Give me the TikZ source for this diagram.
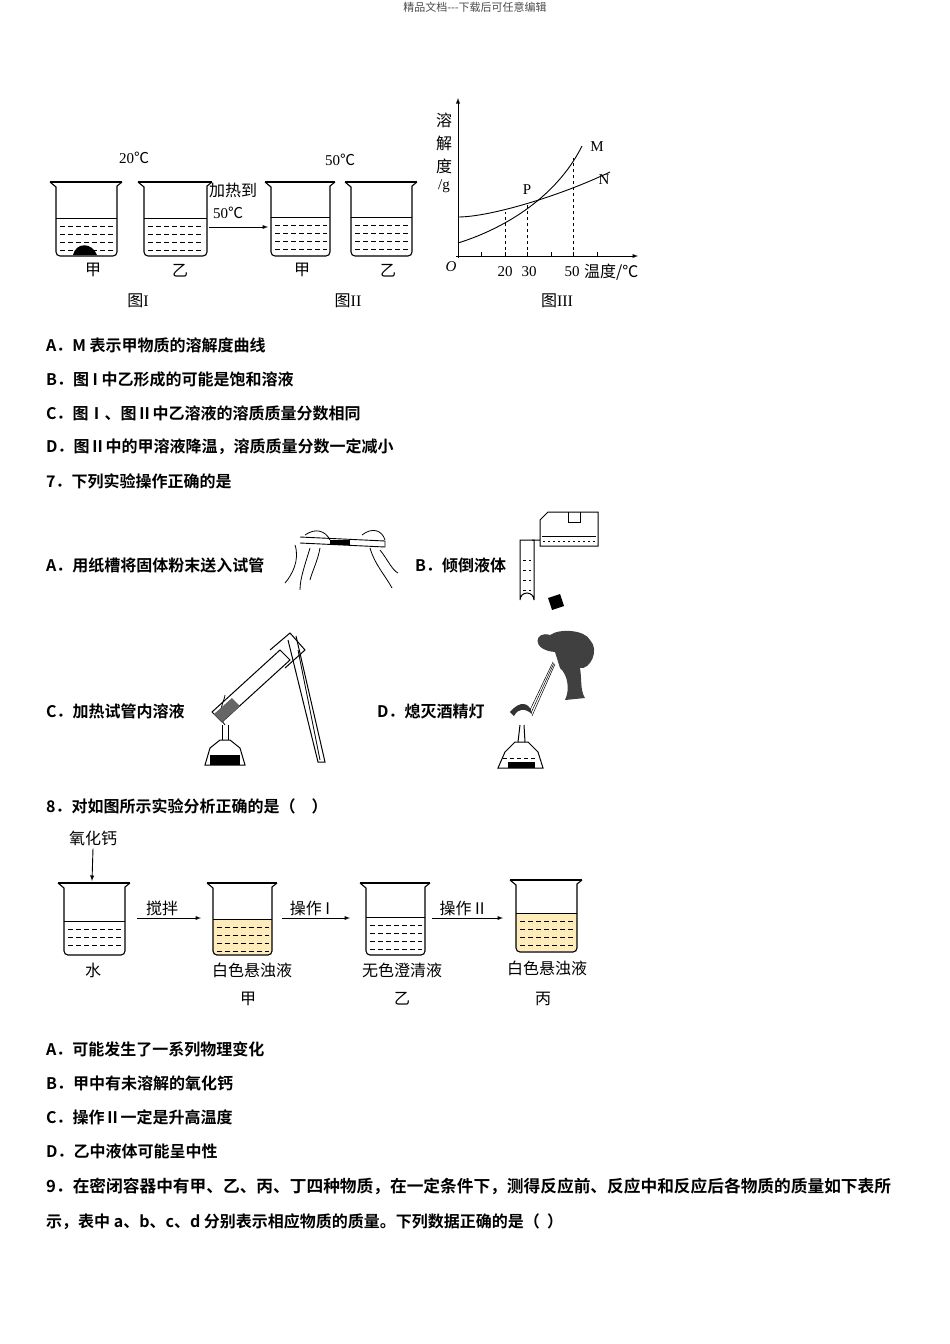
\documentclass[tikz,border=0pt]{standalone}
\usepackage{fontspec}
\setmainfont{Liberation Serif}
\newfontfamily\cjk{Noto Sans CJK SC}
\newfontfamily\cjkb{Noto Sans CJK SC Bold}
\newcommand\cel{{\cjk ℃}}
\begin{document}
\begin{tikzpicture}[x=1pt,y=-1pt,
  q/.style={anchor=west,inner sep=0pt,font=\fontsize{16}{16}\cjkb},
  lab/.style={inner sep=0pt,font=\fontsize{16}{16}\cjk},
  ser/.style={inner sep=0pt,font=\fontsize{15}{15}\selectfont},
  arr/.style={-latex,line width=0.9pt}]
\useasboundingbox (0,0) rectangle (950,1344);
\newcommand\bk[6]{%
  \fill[#6] (#1,#5) rectangle (#3,#4-1);
  \draw[line width=1.1pt] (#1-6,#2) -- (#3+5,#2);
  \draw[line width=1.1pt] (#1-6,#2) -- (#1,#2+5) [rounded corners=4] -- (#1,#4) -- (#3,#4) [sharp corners] -- (#3,#2+4) -- (#3+5,#2);
  \draw[line width=0.8pt] (#1,#5) -- (#3,#5);
  \pgfmathtruncatemacro\nrows{(#4-#5-4)/8}
  \foreach \i in {1,...,\nrows} \draw[line width=0.7pt,dash pattern=on 5pt off 3pt] (#1+4,#5+8*\i) -- (#3-3,#5+8*\i);
}
\node[font=\fontsize{11}{11}\cjk,text=black!70] (hdr) at (475,7) {精品文档---下载后可任意编辑};
% Figure I, II
\bk{56}{182}{117}{256}{218}{white}
\fill (73,255) .. controls (76,242) and (92,242) .. (97,255) -- cycle;
\bk{144}{182}{207}{256}{218}{white}
\bk{271}{182}{330}{256}{217}{white}
\bk{351}{182}{412}{256}{217}{white}
\node[ser] (t20) at (134,158) {20\cel};
\node[ser] (t50) at (340,160) {50\cel};
\coordinate (a1) at (209,227); \coordinate (a2) at (268,227);
\draw[arr] (a1) -- (a2);
\node[lab] (jr) at (233,190) {加热到};
\node[ser] (t50b) at (228,213) {50\cel};
\node[lab] (j1) at (93,270) {甲}; \node[lab] (y1) at (180,271) {乙};
\node[lab] (j2) at (302,270) {甲}; \node[lab] (y2) at (388,271) {乙};
\node[lab] (f1) at (138,301) {图\textrm{I}}; \node[lab] (f2) at (348,301) {图\textrm{II}};
\node[lab] (f3) at (557,301) {图\textrm{III}};
% graph
\coordinate (O) at (458,256);
\draw[-latex,line width=0.9pt] (458,258) -- (458,98);
\draw[-latex,line width=0.9pt] (456,256) -- (638,256);
\foreach \x in {481,505,527,551,573,597} \draw (\x,256) -- (\x,252);
\draw[line width=0.9pt] (458,217) .. controls (490,217) and (560,196) .. (610,172);
\draw[line width=0.9pt] (458,243) .. controls (500,230) and (555,200) .. (582,146);
\draw[dashed] (505,256) -- (505,212);
\draw[dashed] (527,256) -- (527,204);
\draw[dashed] (573,256) -- (573,158);
\node[ser,font=\fontsize{15}{15}\itshape] (o) at (451,267) {O};
\node[ser] (x20) at (505,272) {20}; \node[ser] (x30) at (529,272) {30};
\node[ser] (x50) at (572,272) {50};
\node[lab,anchor=west] (xt) at (584,272) {温度/℃};
\node[ser] (M) at (597,147) {M}; \node[ser] (N) at (604,180) {N};
\node[ser] (P) at (527,190) {P};
\node[lab] (s1) at (444,120) {溶}; \node[lab] (s2) at (444,143) {解};
\node[lab] (s3) at (444,166) {度}; \node[ser] (s4) at (444,186) {/g};
% options Q6
\node[q] (qa) at (46,345) {A．M 表示甲物质的溶解度曲线};
\node[q] (qb) at (46,379) {B．图 I 中乙形成的可能是饱和溶液};
\node[q] (qc) at (46,413) {C．图Ⅰ、图Ⅱ中乙溶液的溶质质量分数相同};
\node[q] (qd) at (46,447) {D．图Ⅱ中的甲溶液降温，溶质质量分数一定减小};
\node[q] (q7) at (46,481) {7．下列实验操作正确的是};
\node[q] (q7a) at (46,565) {A．用纸槽将固体粉末送入试管};
\node[q] (q7b) at (415,565) {B．倾倒液体};
\node[q] (q7c) at (46,711) {C．加热试管内溶液};
\node[q] (q7d) at (377,711) {D．熄灭酒精灯};
% image A
\draw[line width=0.9pt] (300,537) -- (385,541) -- (385,547) -- (300,543);
\fill (330,540) rectangle (350,545);
\draw[line width=0.8pt] (295,545) .. controls (300,560) and (292,575) .. (285,583);
\draw[line width=0.8pt] (305,535) .. controls (315,528) and (325,530) .. (330,540);
\draw[line width=0.8pt] (310,548) .. controls (305,565) and (300,578) .. (300,590);
\draw[line width=0.8pt] (320,548) .. controls (318,560) and (312,572) .. (310,580);
\draw[line width=0.8pt] (362,535) .. controls (372,527) and (382,530) .. (385,540);
\draw[line width=0.8pt] (370,548) .. controls (375,565) and (385,575) .. (392,588);
\draw[line width=0.8pt] (380,550) .. controls (388,560) and (392,570) .. (398,573);
% image B
\draw[line width=1pt] (520,540) -- (520,600) arc[start angle=180,end angle=360,radius=7] -- (534,540) -- cycle;
\foreach \yy in {560,570,580,590} \draw[dash pattern=on 3pt off 3pt] (523,\yy) -- (531,\yy);
\draw[line width=1pt] (532,540) -- (540,540) -- (540,520) -- (548,512) -- (598,512) -- (598,546) -- (540,546) -- (540,540);
\draw[line width=0.9pt] (568,512) -- (568,522) -- (580,522) -- (580,512);
\draw[dash pattern=on 2pt off 3pt] (543,541) -- (595,541);
\draw[line width=0.9pt] (542,536) -- (596,536);
\fill (548,598) -- (560,594) -- (564,606) -- (552,610) -- cycle;
% image C
\draw[line width=1pt] (210,748) -- (205,765) -- (245,765) -- (240,748) -- (230,740) -- (220,740) -- cycle;
\fill (210,755) rectangle (240,765);
\draw[line width=1pt] (222,740) -- (222,725); \draw[line width=1pt] (228,740) -- (228,725);
\draw[line width=0.8pt] (225,725) .. controls (215,715) and (225,700) .. (225,695);
\draw[line width=1pt] (212,712) -- (280,650) -- (290,660) -- (222,722) -- cycle;
\fill[black!60] (214,714) -- (232,698) -- (240,706) -- (222,722) -- cycle;
\draw[line width=1pt] (270,650) -- (290,633) -- (305,650) -- (285,668);
\draw[line width=1pt] (288,640) -- (318,762) -- (325,762) -- (296,636);
\draw[line width=0.8pt] (298,650) -- (320,760);
% image D
\draw[line width=1pt] (505,752) -- (498,768) -- (543,768) -- (538,752) -- (528,742) -- (515,742) -- cycle;
\draw[dash pattern=on 4pt off 3pt] (503,758) -- (538,758);
\fill (508,762) rectangle (535,768);
\draw[line width=1pt] (518,742) -- (520,725); \draw[line width=1pt] (525,742) -- (524,725);
\fill[black!80] (510,712) .. controls (520,700) and (530,702) .. (532,714) .. controls (525,708) and (518,708) .. (514,716) -- cycle;
\draw[line width=0.5pt] (530,710) -- (553,662); \draw[line width=0.5pt] (532,716) -- (555,664);
\draw[line width=0.5pt] (531,713) -- (554,663);
\fill[black!75] (555,652) .. controls (530,650) and (535,630) .. (550,635) .. controls (560,628) and (585,630) .. (590,640) .. controls (600,650) and (590,670) .. (580,668) .. controls (582,680) and (580,690) .. (585,698) -- (565,700) .. controls (570,690) and (568,675) .. (560,668) -- cycle;
% Q8
\node[q] (q8) at (46,806) {8．对如图所示实验分析正确的是（\quad ）};
\node[lab] (cao) at (93,838) {氧化钙};
\coordinate (c2) at (92,881);
\draw[arr] (cao.south) ++(0,3) -- (c2);
\bk{64}{883}{125}{955}{921}{white}
\bk{213}{883}{272}{955}{919}{yellow!50!orange!25}
\bk{366}{883}{425}{955}{917}{white}
\bk{516}{880}{577}{952}{913}{yellow!50!orange!25}
\coordinate (b1) at (137,918); \coordinate (b2) at (201,918);
\coordinate (b3) at (282,918); \coordinate (b4) at (350,918);
\coordinate (b5) at (432,918); \coordinate (b6) at (503,918);
\draw[arr] (b1) -- (b2); \draw[arr] (b3) -- (b4); \draw[arr] (b5) -- (b6);
\node[lab] (l1) at (162,908) {搅拌};
\node[lab] (l2) at (310,908) {操作 I};
\node[lab] (l3) at (462,908) {操作 II};
\node[lab] (w) at (93,970) {水};
\node[lab] (m1) at (252,970) {白色悬浊液}; \node[lab] (m2) at (248,999) {甲};
\node[lab] (m3) at (402,970) {无色澄清液}; \node[lab] (m4) at (402,999) {乙};
\node[lab] (m5) at (547,968) {白色悬浊液}; \node[lab] (m6) at (543,999) {丙};
\node[q] (q8a) at (46,1049) {A．可能发生了一系列物理变化};
\node[q] (q8b) at (46,1083) {B．甲中有未溶解的氧化钙};
\node[q] (q8c) at (46,1117) {C．操作Ⅱ一定是升高温度};
\node[q] (q8d) at (46,1151) {D．乙中液体可能呈中性};
\node[q,font=\fontsize{16.7}{16.7}\cjkb] (q9) at (46,1186) {9．在密闭容器中有甲、乙、丙、丁四种物质，在一定条件下，测得反应前、反应中和反应后各物质的质量如下表所};
\node[q] (q9b) at (46,1222) {示，表中 a、b、c、d 分别表示相应物质的质量。下列数据正确的是（\ \ ）};
\end{tikzpicture}
\end{document}
